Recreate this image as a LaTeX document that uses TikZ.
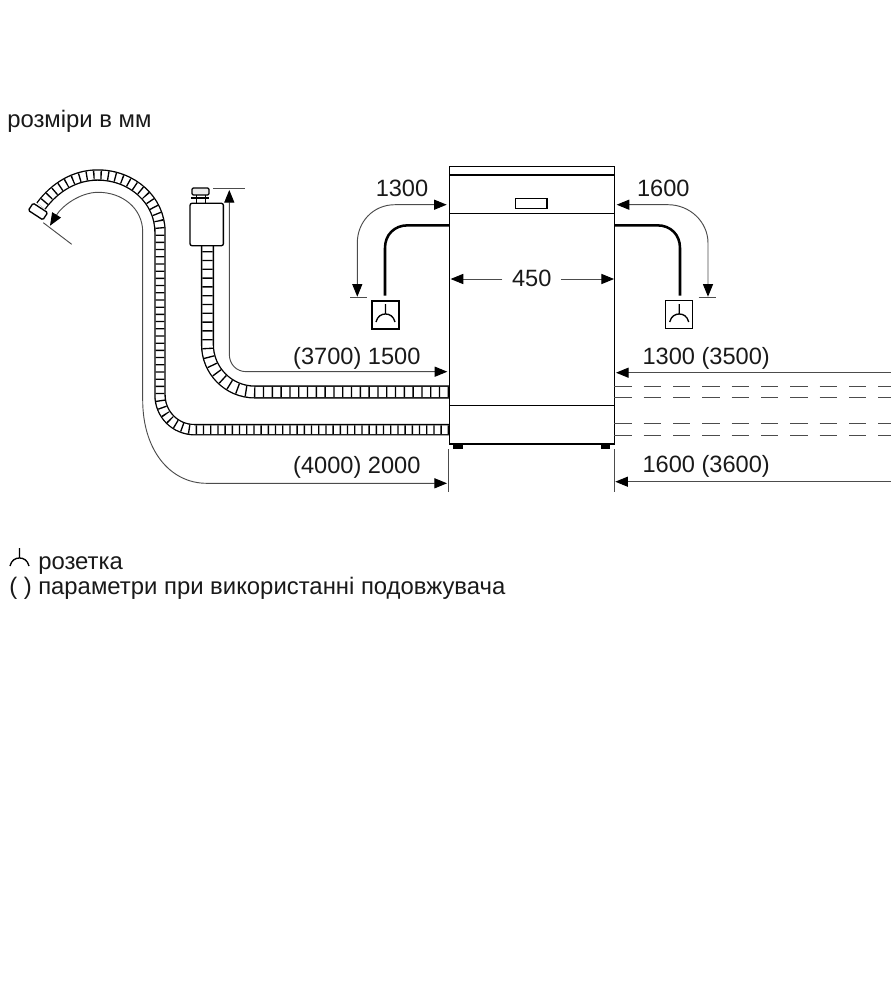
\documentclass[tikz,border=0pt]{standalone}
\usepackage{fontspec}
\setmainfont{Liberation Sans}
\usetikzlibrary{arrows.meta}

% hose: outer line, white core, ribs
\newcommand{\hosedraw}[3]{%
  \draw[line width=#1] #3;
  \draw[line width=#1-2pt,white] #3;
  \draw[line width=#1-2pt,dash pattern=on 1pt off #2] #3;}

\begin{document}
\begin{tikzpicture}[x=0.75pt,y=-0.75pt,
  lab/.style={font=\fontsize{17.7pt}{20pt}\selectfont,inner sep=0pt,text=black!90},
  txt/.style={font=\fontsize{17.9pt}{20pt}\selectfont,inner sep=0pt,text=black!90},
  body/.style={shape=rectangle,draw,line width=1pt,outer sep=0pt,inner sep=0pt},
  tip/.tip={Triangle[length=9.5pt,width=7.6pt,black]},
  dim/.style={draw=black!70,line width=.7pt,-tip},
  thin/.style={draw=black!70,line width=.7pt},
  plugmark/.pic={\draw[line width=1pt] (0,-9) -- (0,1) (-9.5,9) .. controls (-8,3) and (-4,1) .. (0,1) .. controls (4,1) and (8,3) .. (9.5,9);}]
\useasboundingbox (0,0) rectangle (895,1000);

\path (7,127) node (units) [txt,anchor=base west] {розміри в мм};

% hoses
\hosedraw{8.6pt}{4.4pt}{(449,429.7) -- (195,429.7) .. controls (175,429.7) and (160,414) .. (160,395) -- (160,232) .. controls (160,200) and (132,175) .. (97.7,175) .. controls (75,175) and (55,187) .. (41,206)}
\hosedraw{9.8pt}{5.6pt}{(449,392) -- (255,392) .. controls (228,392) and (207.5,370) .. (207.5,345) -- (207.5,245)}

% cabinet
\path (531.8,305.3) node (cab) [body,minimum width=123.8pt,minimum height=208pt] {};
\draw[line width=1pt] (cab.west |- 0,175) -- (cab.east |- 0,175);
\draw[line width=1pt] (cab.west |- 0,213.7) -- (cab.east |- 0,213.7);
\draw[line width=1pt] (cab.west |- 0,405.7) -- (cab.east |- 0,405.7);
\path (531.2,203.5) node (panel) [body,minimum width=23.8pt,minimum height=7.8pt] {};
\path (457.8,446.5) node (footL) [body,fill=black,draw=none,minimum width=7.2pt,minimum height=3.8pt] {};
\path (605.5,446.5) node (footR) [body,fill=black,draw=none,minimum width=7.2pt,minimum height=3.8pt] {};

% sockets
\path (385.5,315) node (sockL) [body,minimum width=20.2pt,minimum height=20.8pt] {};
\path (679.2,314.5) node (sockR) [body,minimum width=20.2pt,minimum height=20.8pt] {};
\path (385.5,313) pic {plugmark};
\path (679.2,313) pic {plugmark};
\coordinate (cordL) at (385,295.7);
\coordinate (cordR) at (680,295.7);
\draw[line width=1.9pt] (cab.west |- 0,225.3) -- (408,225.3) .. controls (394,225.3) and (385,235) .. (385,248) -- (cordL);
\draw[line width=1.9pt] (cab.east |- 0,225.3) -- (657,225.3) .. controls (671,225.3) and (680,235) .. (680,248) -- (cordR);

% drain valve
\path (206.7,224.5) node (valve) [body,fill=white,rounded corners=1.5pt,minimum width=25pt,minimum height=31.8pt] {};
\draw[line width=.9pt,fill=black!8,rounded corners=1pt] (192,188) rectangle (209,195);
\draw[line width=1.7pt] (191,198.3) -- (208.5,198.3);
\draw[line width=.7pt] (196,195) -- (196,203.3) (205.5,195) -- (205.5,203.3);
\path (38,211.5) node (nozzle) [body,fill=white,rotate=-33,rounded corners=1pt,minimum width=13pt,minimum height=6.5pt] {};

% dimensions
\path (402,196.7) node (t1300) [lab,anchor=base] {1300};
\path (663.3,196.7) node (t1600) [lab,anchor=base] {1600};
\coordinate (topL) at (357.3,296.7);
\coordinate (topR) at (708,296.7);
\draw[dim,tip-tip] (446.7,204.7) -- (395,204.7) .. controls (373,204.7) and (357.3,222) .. (357.3,243) -- (topL);
\draw[dim,tip-tip] (616.7,204.7) -- (668,204.7) .. controls (690,204.7) and (708,222) .. (708,243) -- (topR);
\draw[thin] (350,297) -- (367,297);
\draw[thin] (698.7,297) -- (716,297);

\path (531.7,286.5) node (t450) [lab,anchor=base,inner xsep=7pt] {450};
\draw[dim,shorten >=1pt] (t450.west |- 0,279) -- (cab.west |- 0,279);
\draw[dim,shorten >=.2pt] (t450.east |- 0,279) -- (cab.east |- 0,279);

\path (420.7,364.3) node (t3700) [lab,anchor=base east] {(3700) 1500};
\coordinate (valveTop) at (229.3,190);
\draw[dim,tip-tip] (valveTop) -- (229.3,354) .. controls (229.3,364) and (236,371.7) .. (246.7,371.7) -- (447.3,371.7);
\draw[thin] (213.3,188.7) -- (245,188.7);

\path (420.7,473.3) node (t4000) [lab,anchor=base east] {(4000) 2000};
\coordinate (outlet) at (50,225.7);
\draw[dim,tip-tip] (outlet) .. controls (62,206) and (80,192.3) .. (98.3,192.3) .. controls (122,192.3) and (142.7,208) .. (142.7,232) -- (142.7,400) .. controls (142.7,450) and (170,483.3) .. (206.7,483.3) -- (447,483.3);
\draw[thin] (43.3,222.7) -- (71.7,244.3);
\draw[thin] (448.3,449.3) -- (448.3,491.7);
\draw[thin] (614.3,449.3) -- (614.3,491.7);

\path (642.3,364.3) node (t3500) [lab,anchor=base west] {1300 (3500)};
\path (642.3,472.7) node (t3600) [lab,anchor=base west] {1600 (3600)};
\coordinate (farA) at (890.5,372.7);
\coordinate (farB) at (890.5,481.7);
\draw[dim] (farA) -- (616,372.7);
\draw[dim] (farB) -- (615.3,481.7);

% mains pipes
\foreach \y in {386.3,397.7,423.3,435} {
  \draw[thin,dash pattern=on 13pt off 9pt] (cab.east |- 0,\y) -- (890.5,\y);
}

% legend
\path (19.5,557) pic {plugmark};
\path (9,594) node (paren) [txt,anchor=base west] {( )};
\path (38,569) node (leg1) [txt,anchor=base west] {розетка};
\path (38,594) node (leg2) [txt,anchor=base west] {параметри при використанні подовжувача};
\end{tikzpicture}
\end{document}
